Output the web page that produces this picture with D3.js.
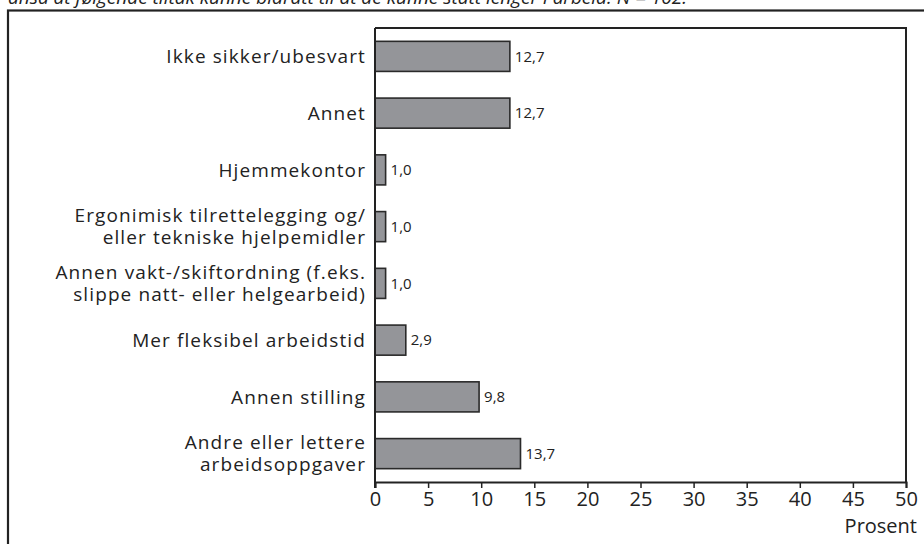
<!DOCTYPE html>
<html lang="no">
<head>
<meta charset="UTF-8">
<title>Tiltak</title>
<script src="https://d3js.org/d3.v7.min.js"></script>
<style>
  body { margin: 0; background: #fff; }
  svg { display: block; font-family: "Open Sans", "Noto Sans", sans-serif; }
</style>
</head>
<body>
<svg id="chart" width="924" height="544"></svg>
<script>
// data, top to bottom as in the figure
const categories = [
    ["Ikke sikker/ubesvart"],
    ["Annet"],
    ["Hjemmekontor"],
    ["Ergonimisk tilrettelegging og/", "eller tekniske hjelpemidler"],
    ["Annen vakt-/skiftordning (f.eks.", "slippe natt- eller helgearbeid)"],
    ["Mer fleksibel arbeidstid"],
    ["Annen stilling"],
    ["Andre eller lettere", "arbeidsoppgaver"]
];
const values = [12.7, 12.7, 1.0, 1.0, 1.0, 2.9, 9.8, 13.7];
const xTicks = [0, 5, 10, 15, 20, 25, 30, 35, 40, 45, 50];
const xTitle = "Prosent";
const caption = "ansa at følgende tiltak kunne bidratt til at de kunne stått lenger i arbeid. N = 102.";

const svg = d3.select("#chart");
const plot = { left: 375, right: 906, top: 28, bottom: 482 };

// caption line, cut by the top edge
svg.append("text")
    .attr("x", 8)
    .attr("y", 4)
    .style("font-size", "19px")
    .style("font-style", "italic")
    .attr("fill", "#222")
    .text(caption);

// outer frame (continues past right and bottom edges)
svg.append("rect")
    .attr("x", 8).attr("y", 10.5)
    .attr("width", 940).attr("height", 560)
    .attr("fill", "none")
    .attr("stroke", "#222")
    .attr("stroke-width", 2.2);

const keys = categories.map((d, i) => i);
const x = d3.scaleLinear().domain([0, 50]).range([plot.left, plot.right]);
const y = d3.scaleBand().domain(keys).range([plot.top, plot.bottom]).paddingInner(0.47).paddingOuter(0.235);

// plot box top + right
svg.append("path")
    .attr("d", `M${plot.left},${plot.top}H${plot.right}V${plot.bottom}`)
    .attr("fill", "none")
    .attr("stroke", "#222")
    .attr("stroke-width", 2);

// bars
svg.selectAll(".bar")
    .data(values)
    .enter().append("rect")
    .attr("class", "bar")
    .attr("x", x(0))
    .attr("y", (d, i) => y(i))
    .attr("width", d => x(d) - x(0))
    .attr("height", y.bandwidth())
    .attr("fill", "#949599")
    .attr("stroke", "#2a2a2a")
    .attr("stroke-width", 1.6);

// value labels
svg.selectAll(".val")
    .data(values)
    .enter().append("text")
    .attr("class", "val")
    .attr("x", d => x(d) + 5)
    .attr("y", (d, i) => y(i) + y.bandwidth() / 2)
    .attr("dy", "0.35em")
    .style("font-size", "15px")
    .attr("fill", "#222")
    .text(d => d.toFixed(1).replace(".", ","));

// category labels
const lineH = 22;
const catG = svg.selectAll(".cat")
    .data(categories)
    .enter().append("text")
    .attr("class", "cat")
    .attr("text-anchor", "end")
    .style("font-size", "19px")
    .style("letter-spacing", "1.1px")
    .attr("fill", "#222");
catG.selectAll("tspan")
    .data((d, i) => d.map((t, j) => ({ t, j, n: d.length, i })))
    .enter().append("tspan")
    .attr("x", 366)
    .attr("y", d => y(d.i) + y.bandwidth() / 2 + (d.j - (d.n - 1) / 2) * lineH)
    .attr("dy", "0.36em")
    .text(d => d.t);

// x axis
const xAxis = svg.append("g")
    .attr("transform", `translate(0,${plot.bottom})`)
    .call(d3.axisBottom(x).tickValues(xTicks).tickSize(6).tickPadding(4).tickFormat(d3.format("d")));
xAxis.select(".domain").attr("stroke", "#222").attr("stroke-width", 2);
xAxis.selectAll(".tick line").attr("stroke", "#222").attr("stroke-width", 1.5);
xAxis.selectAll(".tick text")
    .style("font-size", "20px")
    .style("font-family", "'Open Sans', sans-serif")
    .attr("fill", "#222");

// y axis line
svg.append("line")
    .attr("x1", plot.left).attr("x2", plot.left)
    .attr("y1", plot.top).attr("y2", plot.bottom + 6)
    .attr("stroke", "#222")
    .attr("stroke-width", 2);

svg.append("text")
    .attr("x", 917)
    .attr("y", 533)
    .attr("text-anchor", "end")
    .style("font-size", "20px")
    .attr("fill", "#222")
    .text(xTitle);
</script>
</body>
</html>
